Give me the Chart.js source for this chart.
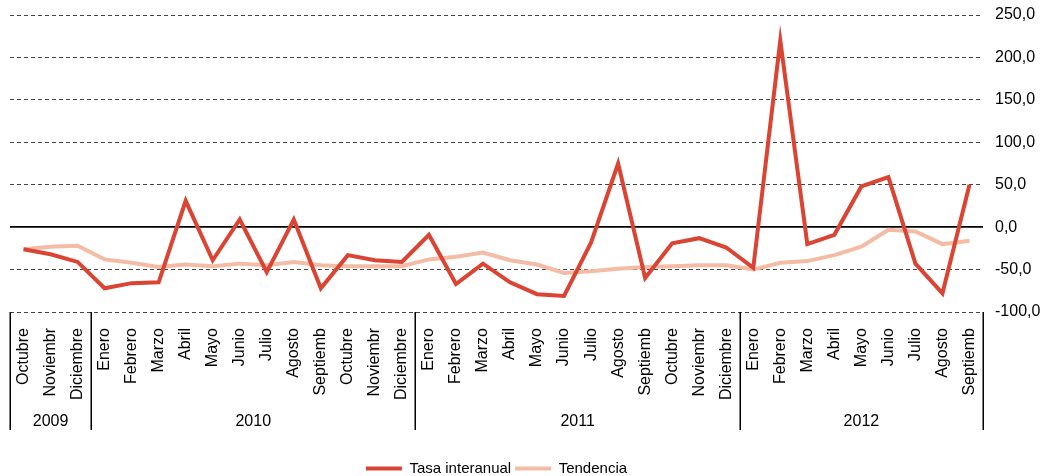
<!DOCTYPE html>
<html>
<head>
<meta charset="utf-8">
<script src="https://cdn.jsdelivr.net/npm/chart.js@4/dist/chart.umd.min.js"></script>
<style>
  html, body { margin: 0; padding: 0; background: #fff; }
  #wrap { width: 1054px; height: 476px; position: relative; }
</style>
</head>
<body>
<div id="wrap"><canvas id="c" width="1054" height="476"></canvas></div>
<script>
// ---- Data ----
const months = [
  'Octubre','Noviembr','Diciembre',
  'Enero','Febrero','Marzo','Abril','Mayo','Junio','Julio','Agosto','Septiemb','Octubre','Noviembr','Diciembre',
  'Enero','Febrero','Marzo','Abril','Mayo','Junio','Julio','Agosto','Septiemb','Octubre','Noviembr','Diciembre',
  'Enero','Febrero','Marzo','Abril','Mayo','Junio','Julio','Agosto','Septiemb'
];
const years = ['2009', '2010', '2011', '2012'];
const monthsPerYear = [3, 12, 12, 9];

const tasaInteranual = [
  -26, -32, -41,
  -72, -66, -65, 31, -39, 9, -53, 9, -72, -33, -39, -41,
  -9, -67, -43, -65, -79, -81, -18, 75, -60, -19, -13, -24,
  -48, 220, -20, -9, 48, 59, -43, -78, 50
];
const tendencia = [
  -26, -23, -22,
  -38, -42, -47, -44, -46, -43, -45, -41, -45, -46, -46, -46,
  -38, -35, -30, -39, -44, -54, -52, -49, -47, -46, -45, -45,
  -50, -42, -40, -33, -23, -3, -5, -20, -16
];
const yTicks = [-100, -50, 0, 50, 100, 150, 200, 250];

// ---- Chart ----
Chart.defaults.font.family = '"Liberation Sans", Arial, sans-serif';
Chart.defaults.color = '#000';

const yearGroups = {
  id: 'yearGroups',
  afterDraw(chart) {
    const ctx = chart.ctx;
    const xs = chart.scales.x;
    const area = chart.chartArea;
    const n = months.length;
    const step = (xs.right - xs.left) / n;
    const yTop = area.bottom;
    const yBot = area.bottom + 118;
    ctx.save();
    ctx.strokeStyle = '#000';
    ctx.lineWidth = 1.5;
    let idx = 0;
    const bounds = [0];
    monthsPerYear.forEach(c => { idx += c; bounds.push(idx); });
    bounds.forEach(b => {
      const px = Math.round(xs.left + b * step) + 0.25;
      ctx.beginPath();
      ctx.moveTo(px, yTop);
      ctx.lineTo(px, yBot);
      ctx.stroke();
    });
    ctx.font = '16px "Liberation Sans", Arial, sans-serif';
    ctx.fillStyle = '#000';
    ctx.textAlign = 'center';
    ctx.textBaseline = 'middle';
    years.forEach((yr, i) => {
      const cx = xs.left + (bounds[i] + bounds[i + 1]) / 2 * step;
      ctx.fillText(yr, cx, area.bottom + 110);
    });
    ctx.restore();
  }
};

new Chart(document.getElementById('c'), {
  type: 'line',
  data: {
    labels: months,
    datasets: [
      {
        label: 'Tasa interanual',
        data: tasaInteranual,
        borderColor: '#DB4332',
        backgroundColor: '#DB4332',
        borderWidth: 4,
        pointRadius: 0,
        tension: 0
      },
      {
        label: 'Tendencia',
        data: tendencia,
        borderColor: '#F4BCA5',
        backgroundColor: '#F4BCA5',
        borderWidth: 4,
        pointRadius: 0,
        tension: 0
      }
    ]
  },
  options: {
    responsive: false,
    animation: false,
    events: [],
    layout: { padding: { left: 10, right: 0, top: 15, bottom: -10 } },
    plugins: {
      tooltip: { enabled: false },
      legend: {
        position: 'bottom',
        fullSize: false,
        labels: {
          boxWidth: 36,
          boxHeight: 4,
          padding: 4,
          font: { size: 15 },
          generateLabels: (chart) =>
            Chart.defaults.plugins.legend.labels.generateLabels(chart).map(l => ({ ...l, fillStyle: l.strokeStyle, lineWidth: 0 }))
        }
      }
    },
    scales: {
      x: {
        type: 'category',
        offset: true,
        grid: { display: false },
        border: { display: false },
        ticks: {
          autoSkip: false,
          maxRotation: 90,
          minRotation: 90,
          padding: 8,
          font: { size: 16 }
        },
        afterFit(scale) { scale.height = 145; }
      },
      y: {
        position: 'right',
        min: -100,
        max: 250,
        afterBuildTicks(scale) { scale.ticks = yTicks.map(v => ({ value: v })); },
        grid: {
          drawTicks: false,
          color: (c) => (c.tick && c.tick.value === 0 ? '#000' : '#444'),
          lineWidth: (c) => (c.tick && c.tick.value === 0 ? 1.8 : 1)
        },
        border: {
          display: false,
          dash: (c) => (c.tick && c.tick.value === 0 ? [] : [4, 3])
        },
        ticks: {
          padding: 12,
          font: { size: 16 },
          callback: (v) => v.toFixed(1).replace('.', ',')
        },
        afterFit(scale) {
          scale.width = 71;
          scale.paddingTop = 0;
          scale.paddingBottom = 0;
        }
      }
    }
  },
  plugins: [yearGroups]
});
</script>
</body>
</html>
